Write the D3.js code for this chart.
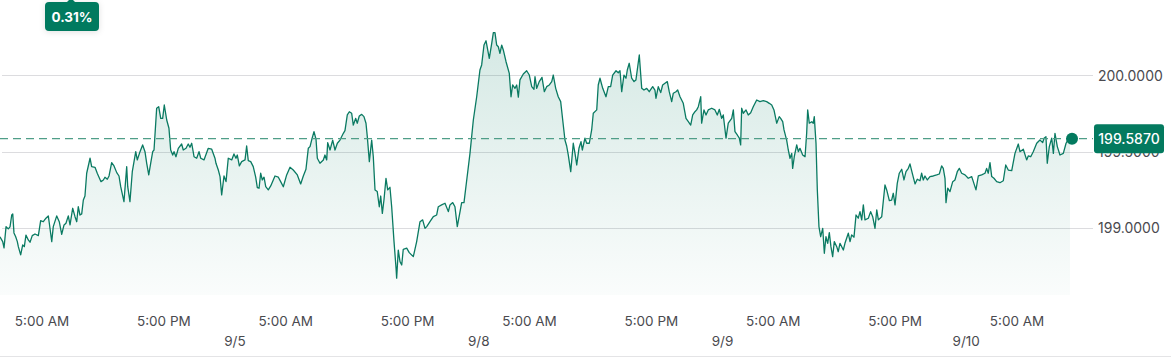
<!DOCTYPE html>
<html><head><meta charset="utf-8">
<script src="https://cdn.jsdelivr.net/npm/d3@7"></script>
<style>
html,body{margin:0;padding:0;background:#fff;}
svg{display:block;font-family:Inter,"Noto Sans",sans-serif;}
</style></head>
<body>
<svg id="c" width="1171" height="358"></svg>
<script>
// trading hours since 9/4 5:00 AM (weekend collapsed)
const hours = [-4.14,-3.87,-3.74,-3.54,-3.32,-3.15,-2.98,-2.88,-2.76,-2.59,-2.43,-2.33,-2.10,-1.90,-1.74,-1.58,-1.35,-1.18,-0.96,-0.69,-0.36,-0.13,0.13,0.39,0.62,0.72,0.96,1.11,1.45,1.70,1.94,2.17,2.36,2.59,2.76,3.02,3.25,3.42,3.57,3.74,3.91,4.07,4.23,4.40,4.73,4.89,5.22,5.44,5.81,6.04,6.20,6.43,6.60,6.86,7.09,7.36,7.58,7.75,8.07,8.34,8.44,8.66,8.89,9.23,9.38,9.65,9.91,10.14,10.31,10.51,10.70,10.90,11.03,11.29,11.49,11.69,11.88,12.04,12.28,12.50,12.67,12.87,13.00,13.19,13.42,13.75,13.91,14.18,14.40,14.57,14.74,14.97,15.23,15.46,15.63,15.95,16.37,16.71,17.03,17.13,17.36,17.53,17.69,17.92,18.12,18.34,18.68,18.90,19.10,19.23,19.43,19.66,19.99,20.15,20.31,20.55,20.80,21.04,21.20,21.37,21.53,21.69,21.86,22.03,22.28,22.52,22.94,23.27,23.50,23.76,24.09,24.42,24.74,25.14,25.47,25.73,25.99,26.22,26.39,26.55,26.78,26.98,27.11,27.37,27.70,27.86,28.03,28.13,28.36,28.62,28.85,29.08,29.34,29.67,29.83,30.06,30.26,30.49,30.65,30.89,31.04,31.24,31.48,31.70,31.90,32.03,32.23,32.46,32.62,32.79,33.01,33.21,33.35,33.51,33.67,33.87,34.04,34.26,34.43,34.66,34.86,34.92,35.08,35.25,35.42,35.57,35.91,36.16,36.56,36.89,37.22,37.48,37.71,37.88,38.20,38.53,38.86,39.02,39.35,39.68,40.01,40.17,40.44,40.66,40.89,41.16,41.32,41.55,41.82,42.14,42.47,42.80,43.12,43.29,43.52,43.72,43.84,44.04,44.28,44.44,44.60,44.77,44.93,45.09,45.26,45.42,45.69,46.01,46.18,46.34,46.57,46.74,46.90,47.06,47.39,47.72,47.98,48.22,48.44,48.54,48.71,48.96,49.23,49.46,49.69,49.95,50.19,50.34,50.58,50.83,51.07,51.27,51.49,51.66,51.82,52.06,52.31,52.48,52.65,52.87,53.07,53.20,53.46,53.63,53.89,54.12,54.28,54.62,54.77,54.94,55.21,55.53,55.76,55.99,56.19,56.52,56.74,56.91,57.08,57.30,57.50,57.63,57.82,58.06,58.29,58.48,58.81,59.05,59.27,59.54,59.79,60.13,60.35,60.45,60.68,60.92,61.11,61.34,61.57,61.76,62.00,62.16,62.42,62.59,62.82,63.14,63.41,63.64,63.87,64.07,64.29,64.46,64.62,64.86,64.95,65.18,65.38,65.60,65.94,66.26,66.49,66.69,66.92,67.08,67.35,67.57,67.91,68.07,68.23,68.46,68.66,68.79,68.89,69.05,69.32,69.54,69.78,70.03,70.37,70.69,71.02,71.35,71.61,71.85,72.07,72.34,72.59,72.73,72.93,73.06,73.32,73.48,73.65,73.82,73.91,74.07,74.31,74.47,74.63,74.90,75.13,75.29,75.39,75.55,75.79,75.94,76.04,76.21,76.34,76.50,76.67,76.87,77.03,77.19,77.36,77.52,77.68,77.85,78.01,78.25,78.40,78.57,78.90,79.06,79.39,79.56,79.72,79.95,80.15,80.37,80.54,80.71,80.87,81.03,81.36,81.59,81.79,82.02,82.19,82.35,82.68,83.00,83.17,83.43,83.66,83.82,83.99,84.21,84.41,84.65,84.87,85.07,85.30,85.46,85.73,85.96,86.18,86.45,86.61,86.77,86.94,87.17,87.43,87.76,88.09,88.35,88.58,88.74,88.91,89.01,89.18,89.40,89.67,89.89,90.12,90.32,90.55,90.88,91.20,91.54,91.70,91.96,92.19,92.52,92.85,93.01,93.17,93.34,93.51,93.73,94.00,94.32,94.65,94.89,95.14,95.48,95.80,96.13,96.29,96.62,96.95,97.11,97.35,97.60,97.94,98.26,98.53,98.66,98.85,98.98,99.18,99.42,99.58,99.74,99.97,100.23,100.56,100.83,101.05,101.22];
const prices = [198.946,198.914,198.873,199.012,198.997,199.010,199.088,199.095,198.971,198.946,198.914,198.881,198.827,198.892,198.881,198.957,198.925,198.910,198.953,198.964,198.953,199.051,199.044,199.067,199.082,199.034,198.914,199.012,199.082,199.044,198.962,199.023,199.034,199.082,199.023,199.132,199.077,199.044,199.142,199.088,199.095,199.186,199.212,199.361,199.459,199.404,199.400,199.361,199.306,199.317,199.335,199.322,199.343,199.430,199.409,199.365,199.343,199.273,199.175,199.404,199.273,199.175,199.371,199.502,199.448,199.502,199.546,199.502,199.426,199.350,199.426,199.502,199.513,199.786,199.796,199.720,199.720,199.807,199.709,199.655,199.513,199.480,199.502,199.469,199.524,199.552,199.513,199.524,199.552,199.531,199.557,199.469,199.459,199.502,199.459,199.448,199.524,199.518,199.459,199.426,199.382,199.339,199.219,199.343,199.306,199.459,199.448,199.487,199.459,199.480,199.409,199.437,199.448,199.539,199.443,199.437,199.404,199.335,199.267,199.263,199.361,199.317,199.335,199.273,199.252,199.278,199.343,199.335,199.306,199.273,199.350,199.400,199.382,199.350,199.291,199.343,199.387,199.524,199.535,199.578,199.633,199.583,199.459,199.426,199.448,199.480,199.448,199.561,199.513,199.578,199.513,199.557,199.578,199.622,199.639,199.742,199.763,199.753,199.676,199.720,199.688,199.735,199.746,199.731,199.688,199.600,199.437,199.578,199.469,199.252,199.241,199.142,199.212,199.099,199.186,199.328,199.252,199.269,199.142,198.914,198.740,198.675,198.859,198.783,198.761,198.864,198.871,198.842,198.816,198.914,199.044,199.056,199.001,199.012,199.044,199.077,199.088,199.142,199.154,199.165,199.110,199.154,199.169,199.142,199.012,199.110,199.169,199.169,199.317,199.491,199.709,199.861,200.036,200.069,200.199,200.227,200.184,200.112,200.210,200.280,200.280,200.199,200.188,200.145,200.199,200.167,200.090,200.014,199.861,199.938,199.916,199.938,199.858,199.971,200.010,200.031,200.003,199.927,199.910,199.992,199.916,199.960,199.988,199.894,199.927,199.938,199.960,200.003,199.916,199.861,199.829,199.709,199.578,199.539,199.480,199.371,199.557,199.491,199.415,199.524,199.567,199.513,199.590,199.557,199.557,199.644,199.753,199.775,199.938,199.982,199.916,199.861,199.927,199.927,200.003,200.031,200.018,200.031,199.894,200.003,199.982,200.036,200.080,199.982,199.960,199.971,200.134,199.916,199.905,199.916,199.894,199.927,199.905,199.851,199.927,199.888,199.938,199.949,199.960,199.894,199.829,199.884,199.894,199.905,199.861,199.818,199.720,199.698,199.676,199.742,199.763,199.775,199.796,199.861,199.688,199.775,199.742,199.775,199.786,199.775,199.742,199.779,199.720,199.742,199.590,199.688,199.720,199.775,199.633,199.611,199.590,199.546,199.786,199.753,199.775,199.742,199.757,199.796,199.840,199.829,199.835,199.829,199.818,199.807,199.775,199.688,199.731,199.720,199.698,199.644,199.578,199.513,199.459,199.491,199.393,199.469,199.546,199.502,199.524,199.480,199.469,199.622,199.775,199.688,199.698,199.688,199.731,199.557,199.252,199.012,198.946,199.001,198.838,198.946,198.903,198.973,198.881,198.816,198.914,198.881,198.848,198.903,198.859,198.903,198.969,198.914,198.958,198.943,199.088,199.067,199.110,199.056,199.154,199.056,199.067,199.110,199.077,199.001,199.121,199.056,199.077,199.284,199.252,199.182,199.186,199.230,199.154,199.295,199.361,199.387,199.317,199.371,199.393,199.422,199.350,199.291,199.322,199.312,199.361,199.317,199.343,199.317,199.339,199.343,199.350,199.356,199.409,199.393,199.328,199.169,199.263,199.241,199.306,199.317,199.371,199.393,199.361,199.350,199.328,199.339,199.306,199.252,199.343,199.350,199.361,199.393,199.361,199.430,199.339,199.328,199.306,199.299,199.312,199.415,199.382,199.378,199.491,199.552,199.502,199.518,199.448,199.474,199.469,199.502,199.557,199.578,199.561,199.590,199.600,199.426,199.535,199.590,199.491,199.622,199.535,199.480,199.491,199.557,199.583,199.587];

const tickHours = [0,12,24,36,48,60,72,84,96];
const tickLabels = ["5:00 AM","5:00 PM","5:00 AM","5:00 PM","5:00 AM","5:00 PM","5:00 AM","5:00 PM","5:00 AM"];
const dateHours = [19,43,67,91];
const dateLabels = ["9/5","9/8","9/9","9/10"];
const yTicks = [199.0,199.5,200.0];
const lastPrice = 199.5870;
const changeLabel = "0.31%";

const W = 1171, H = 358;
const green = "#037a5f";
const svg = d3.select("#c");

const x = d3.scaleLinear().domain([0,96]).range([42,1017]);
const y = d3.scaleLinear().domain([198.565,200.4935]).range([295,0]);

const data = hours.map((h,i)=>({h, v:prices[i]}));

const defs = svg.append("defs");
const grad = defs.append("linearGradient").attr("id","fillg")
  .attr("gradientUnits","userSpaceOnUse").attr("x1",0).attr("y1",30).attr("x2",0).attr("y2",295);
grad.append("stop").attr("offset","0%").attr("stop-color",green).attr("stop-opacity",0.17);
grad.append("stop").attr("offset","100%").attr("stop-color",green).attr("stop-opacity",0.02);
const sh = defs.append("filter").attr("id","sh").attr("x","-50%").attr("y","-50%").attr("width","200%").attr("height","200%");
sh.append("feDropShadow").attr("dx",0).attr("dy",1).attr("stdDeviation",3).attr("flood-color","#000").attr("flood-opacity",0.12);

// grid
svg.append("g").selectAll("line").data(yTicks).join("line")
  .attr("x1",2).attr("x2",1093).attr("y1",d=>Math.round(y(d))+0.5).attr("y2",d=>Math.round(y(d))+0.5)
  .attr("stroke","#dcdcdf").attr("stroke-width",1);

// area + line
const area = d3.area().x(d=>x(d.h)).y0(295).y1(d=>y(d.v));
svg.append("path").datum(data).attr("d",area).attr("fill","url(#fillg)");
const line = d3.line().x(d=>x(d.h)).y(d=>y(d.v));
svg.append("path").datum(data).attr("d",line).attr("fill","none")
  .attr("stroke","#0a7a62").attr("stroke-width",1.3).attr("stroke-linejoin","round");

// reference dashed line
svg.append("line").attr("x1",0).attr("x2",1093).attr("y1",y(lastPrice)).attr("y2",y(lastPrice))
  .attr("stroke","#4f9e88").attr("stroke-width",1.4).attr("stroke-dasharray","8,5");

// end dot
const last = data[data.length-1];
svg.append("circle").attr("cx",x(last.h)+2).attr("cy",y(last.v)).attr("r",6).attr("fill",green);

// y labels
svg.append("g").selectAll("text").data(yTicks).join("text")
  .attr("x",1098).attr("y",d=>y(d)).attr("dy","0.36em")
  .attr("font-size",14).attr("fill","#4a4a4f").text(d=>d.toFixed(4));

// last price box
const ly = y(lastPrice);
svg.append("rect").attr("x",1094).attr("y",ly-14.5).attr("width",70).attr("height",29).attr("rx",3).attr("fill",green);
svg.append("text").attr("x",1129).attr("y",ly).attr("dy","0.36em").attr("text-anchor","middle")
  .attr("font-size",14).attr("font-weight",500).attr("fill","#fff").text(lastPrice.toFixed(4));

// x axis
const xa = svg.append("g");
xa.selectAll("text.t").data(tickHours).join("text").attr("class","t")
  .attr("x",d=>x(d)).attr("y",326).attr("text-anchor","middle")
  .attr("font-size",13.5).attr("fill","#4a4a4f").text((d,i)=>tickLabels[i]);
xa.selectAll("text.d").data(dateHours).join("text").attr("class","d")
  .attr("x",d=>x(d)).attr("y",346).attr("text-anchor","middle")
  .attr("font-size",13.5).attr("fill","#4a4a4f").text((d,i)=>dateLabels[i]);
svg.append("line").attr("x1",0).attr("x2",W).attr("y1",356.5).attr("y2",356.5).attr("stroke","#e4e4e6");

// change badge
const b = svg.append("g").attr("filter","url(#sh)");
b.append("path").attr("d","M66,3 L71,-2 L76,3 Z").attr("fill",green);
b.append("rect").attr("x",45).attr("y",2).attr("width",54).attr("height",29).attr("rx",4).attr("fill",green);
svg.append("text").attr("x",72).attr("y",17).attr("dy","0.36em").attr("text-anchor","middle")
  .attr("font-size",13.5).attr("font-weight",700).attr("fill","#fff").text(changeLabel);
</script>
</body></html>
